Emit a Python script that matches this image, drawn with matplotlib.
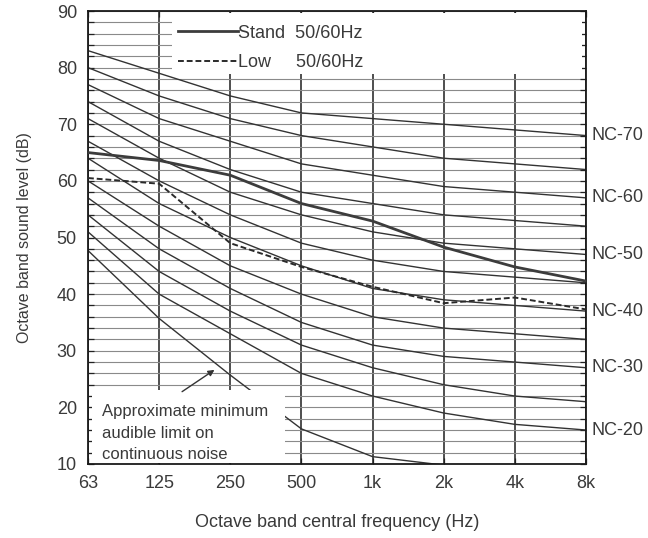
import matplotlib
matplotlib.use('Agg')
import matplotlib.pyplot as plt
from matplotlib.patches import Rectangle
import numpy as np

plt.rcParams['font.family'] = ['Liberation Sans', 'DejaVu Sans']

# ---- data ----
freq_labels = ['63', '125', '250', '500', '1k', '2k', '4k', '8k']
nc_names = ['NC-20', 'NC-25', 'NC-30', 'NC-35', 'NC-40', 'NC-45',
            'NC-50', 'NC-55', 'NC-60', 'NC-65', 'NC-70']
nc20 = [51, 40, 33, 26, 22, 19, 17, 16]
nc25 = [54, 44, 37, 31, 27, 24, 22, 21]
nc30 = [57, 48, 41, 35, 31, 29, 28, 27]
nc35 = [60, 52, 45, 40, 36, 34, 33, 32]
nc40 = [64, 56, 50, 45, 41, 39, 38, 37]
nc45 = [67, 60, 54, 49, 46, 44, 43, 42]
nc50 = [71, 64, 58, 54, 51, 49, 48, 47]
nc55 = [74, 67, 62, 58, 56, 54, 53, 52]
nc60 = [77, 71, 67, 63, 61, 59, 58, 57]
nc65 = [80, 75, 71, 68, 66, 64, 63, 62]
nc70 = [83, 79, 75, 72, 71, 70, 69, 68]
nc_curves = [nc20, nc25, nc30, nc35, nc40, nc45, nc50, nc55, nc60, nc65, nc70]
labelled_nc = ['NC-70', 'NC-60', 'NC-50', 'NC-40', 'NC-30', 'NC-20']

threshold = [47.7, 35.7, 25.7, 16.2, 11.3, 9.8]   # approx. minimum audible limit
stand = [65.0, 63.6, 61.0, 56.0, 52.9, 48.3, 44.8, 42.3]
low = [60.5, 59.5, 49.0, 44.8, 41.3, 38.4, 39.4, 37.3]
series_labels = ['Stand  50/60Hz', 'Low     50/60Hz']
annotation_text = 'Approximate minimum\naudible limit on\ncontinuous noise'

# ---- figure ----
fig = plt.figure(figsize=(6.48, 5.38), dpi=100)
ax = fig.add_axes([88/648, (538-464)/538, (586-88)/648, (464-11)/538])

txt = '#3a3a3a'
x = np.arange(len(freq_labels))

for name, vals in zip(nc_names, nc_curves):
    ax.plot(x, vals, color='#333333', lw=1.0, zorder=2)
    if name in labelled_nc:
        ax.annotate(name, xy=(x[-1], vals[-1]), xytext=(4, 0),
                    textcoords='offset points', va='center', ha='left',
                    fontsize=13, color=txt, annotation_clip=False)

ax.plot(x[:len(threshold)], threshold, color='#333333', lw=1.0, zorder=2)
l_stand, = ax.plot(x, stand, color='#3c3c3c', lw=2.0, zorder=4)
l_low, = ax.plot(x, low, color='#2a2a2a', lw=1.4, ls=(0, (3, 1.5)), zorder=4)

ax.set_xlim(0, 7)
ax.set_ylim(10, 90)
ax.set_xticks(x)
ax.set_xticklabels(freq_labels)
ax.set_yticks(np.arange(10, 91, 10))
ax.set_yticks(np.arange(10, 91, 2), minor=True)
ax.set_axisbelow(True)
ax.grid(axis='y', which='both', color='#8a8a8a', lw=0.8)
ax.grid(axis='x', which='major', color='#1e1e1e', lw=1.1)
ax.tick_params(which='both', direction='in', top=True, right=True,
               length=4, width=0.9, color='#222222')
ax.tick_params(axis='both', which='major', labelsize=13, labelcolor=txt, pad=8)
for s in ax.spines.values():
    s.set_linewidth(1.3)
    s.set_color('#1a1a1a')

ax.set_xlabel('Octave band central frequency (Hz)', fontsize=13, color=txt, labelpad=16)
ax.set_ylabel('Octave band sound level (dB)', fontsize=11.5, color=txt, labelpad=18)

# white boxes behind legend and annotation
ax.add_patch(Rectangle((1.18, 78.9), 6.94 - 1.18, 89.6 - 78.9,
                       facecolor='white', edgecolor='none', zorder=1.5))
ax.add_patch(Rectangle((0.06, 10.2), 2.77 - 0.06, 23.0 - 10.2,
                       facecolor='white', edgecolor='none', zorder=3))

leg = ax.legend([l_stand, l_low], series_labels, loc='upper left',
                bbox_to_anchor=(1.265, 87.6), bbox_transform=ax.transData,
                frameon=False, handlelength=3.3, handletextpad=0.05,
                borderpad=0, borderaxespad=0, labelspacing=0.68, fontsize=13)
for t in leg.get_texts():
    t.set_color(txt)

ax.text(0.2, 20.6, annotation_text, va='top', ha='left', fontsize=12,
        color=txt, linespacing=1.56, zorder=5)
ax.annotate('', xy=(1.81, 26.9), xytext=(1.29, 22.5),
            arrowprops=dict(arrowstyle='-|>', color='#333333', lw=1.0,
                            mutation_scale=9), zorder=5)

fig.savefig('out.png', dpi=100)
